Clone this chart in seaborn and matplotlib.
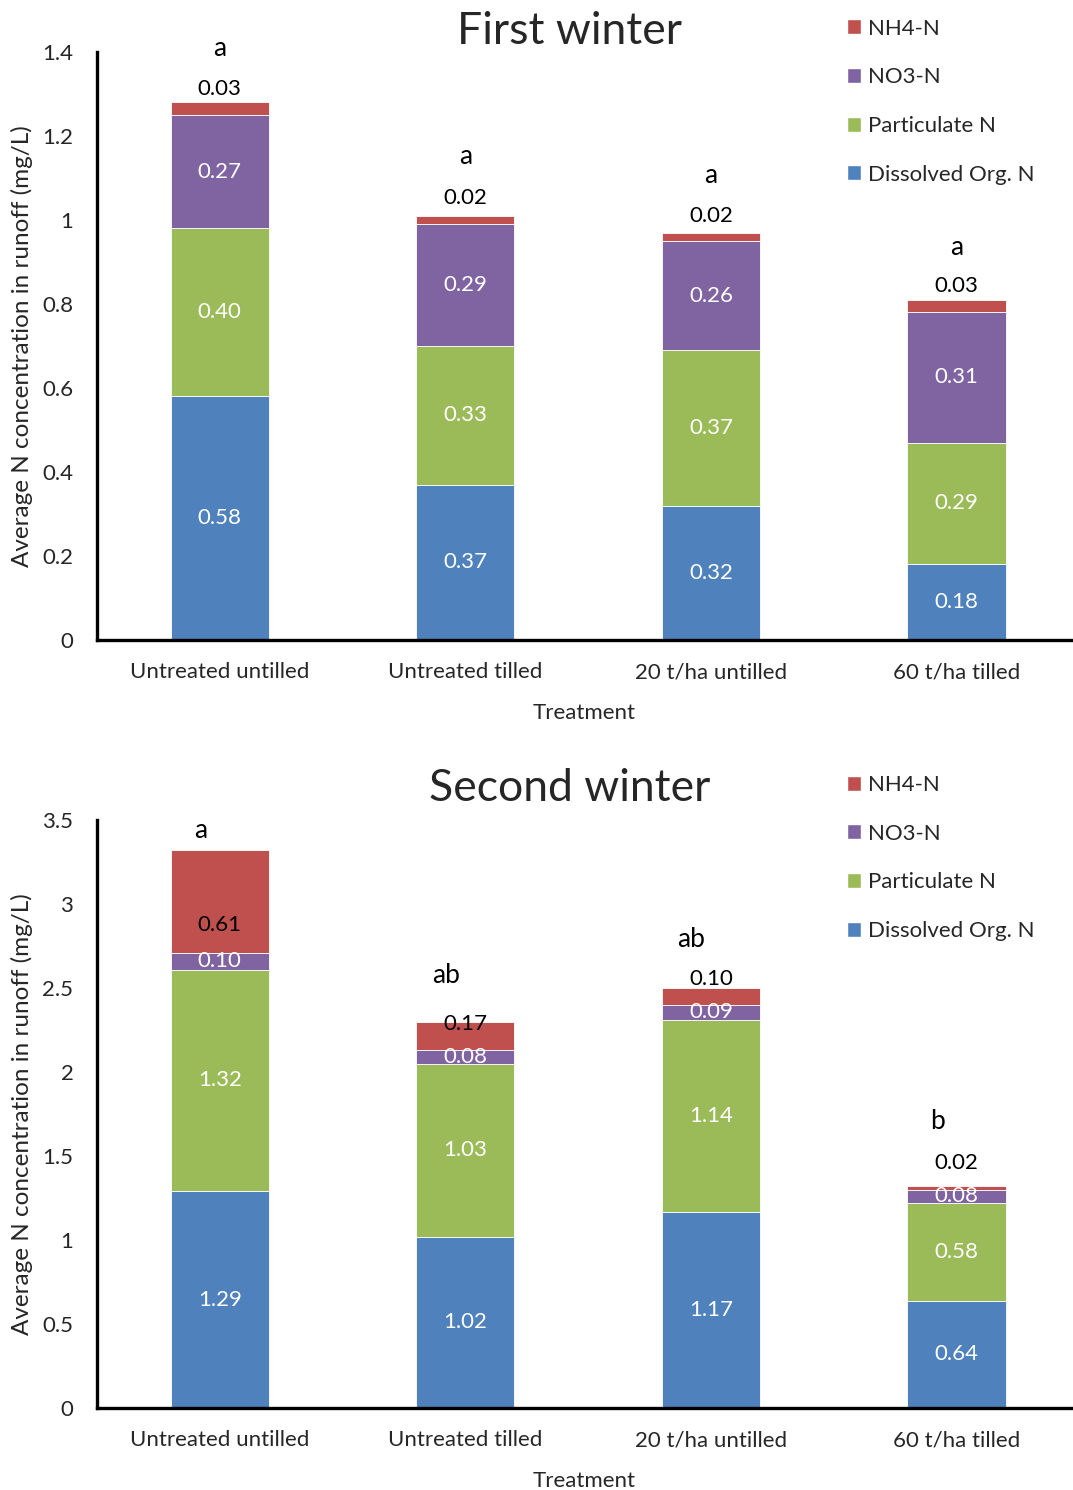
import numpy as np
import pandas as pd
import matplotlib
matplotlib.use("Agg")
import matplotlib.pyplot as plt
from matplotlib.patches import Patch
import seaborn as sns

# Datos
tratamientos = ["Untreated untilled", "Untreated tilled", "20 t/ha untilled", "60 t/ha tilled"]
componentes = ["Dissolved Org. N", "Particulate N", "NO3-N", "NH4-N"]

w1_don = [0.58, 0.37, 0.32, 0.18]
w1_pn = [0.40, 0.33, 0.37, 0.29]
w1_no3 = [0.27, 0.29, 0.26, 0.31]
w1_nh4 = [0.03, 0.02, 0.02, 0.03]
w1_letras = ["a", "a", "a", "a"]

w2_don = [1.29, 1.02, 1.17, 0.64]
w2_pn = [1.32, 1.03, 1.14, 0.58]
w2_no3 = [0.10, 0.08, 0.09, 0.08]
w2_nh4 = [0.61, 0.17, 0.10, 0.02]
w2_letras = ["a", "ab", "ab", "b"]

w1_yticks = [0, 0.2, 0.4, 0.6, 0.8, 1.0, 1.2, 1.4]
w2_yticks = [0, 0.5, 1.0, 1.5, 2.0, 2.5, 3.0, 3.5]

colores = {"Dissolved Org. N": "#4F81BD", "Particulate N": "#9BBB59",
           "NO3-N": "#8064A2", "NH4-N": "#C0504D"}

sns.set_style("white")
plt.rcParams["font.family"] = ["Lato", "DejaVu Sans"]


def fmt_tick(v):
    return f"{v:g}"


def panel(ax, capas, letras, yticks, titulo, nh4_off, letra_off, letra_dx, ley_y, tit_y):
    df = pd.DataFrame({"Treatment": tratamientos})
    base = np.zeros(len(tratamientos))
    for comp, vals in zip(componentes, capas):
        df[comp] = vals
        sns.barplot(data=df, x="Treatment", y=comp, bottom=base, color=colores[comp],
                    width=0.4, edgecolor="white", linewidth=0.6, ax=ax, errorbar=None,
                    saturation=1)
        for i, v in enumerate(vals):
            if comp == "NH4-N":
                ax.annotate(f"{v:.2f}", (i, base[i] + v), xytext=(0, nh4_off[i]),
                            textcoords="offset points", ha="center", va="center",
                            fontsize=16, color="black")
            else:
                ax.text(i, base[i] + v / 2, f"{v:.2f}", ha="center", va="center",
                        fontsize=16, color="white")
        base = base + np.array(vals)
    for i, l in enumerate(letras):
        ax.annotate(l, (i, base[i]), xytext=(letra_dx, letra_off[i]),
                    textcoords="offset points", ha="center", va="center",
                    fontsize=19, color="black")

    ax.set_xlim(-0.5, 3.47)
    ax.set_ylim(yticks[0], yticks[-1])
    ax.set_yticks(yticks)
    ax.set_yticklabels([fmt_tick(v) for v in yticks])
    ax.tick_params(axis="both", length=0, labelsize=16)
    ax.tick_params(axis="x", pad=16)
    ax.tick_params(axis="y", pad=17)
    ax.set_xlabel("Treatment", fontsize=16, labelpad=15)
    ax.set_ylabel("Average N concentration in runoff (mg/L)", fontsize=17.5, labelpad=7)
    sns.despine(ax=ax)
    for s in ["left", "bottom"]:
        ax.spines[s].set_linewidth(2.4)
        ax.spines[s].set_color("black")
    ax.spines["left"].set_zorder(5)
    ax.spines["bottom"].set_zorder(5)
    ax.set_title(titulo, fontsize=32, pad=0, x=0.485, y=tit_y)
    handles = [Patch(facecolor=colores[c], label=c) for c in reversed(componentes)]
    ax.legend(handles=handles, loc="upper left", bbox_to_anchor=(0.76, ley_y),
              frameon=False, fontsize=16, handlelength=0.65, handleheight=0.65,
              handletextpad=0.3, labelspacing=1.29, borderaxespad=0)


fig = plt.figure(figsize=(10.73, 14.9), dpi=100)
ax1 = fig.add_axes([0.0904, 0.5705, 0.9086, 0.3946])
ax2 = fig.add_axes([0.0904, 0.055, 0.9086, 0.3946])

panel(ax1, [w1_don, w1_pn, w1_no3, w1_nh4], w1_letras, w1_yticks, "First winter",
      [10, 13, 12, 10], [39, 43, 41, 38], 0, 1.072, 1.013)
panel(ax2, [w2_don, w2_pn, w2_no3, w2_nh4], w2_letras, w2_yticks, "Second winter",
      [-54, -1.5, 6.5, 17], [14, 33, 35, 47], -14, 1.092, 1.032)

fig.savefig("out.png", dpi=100)
